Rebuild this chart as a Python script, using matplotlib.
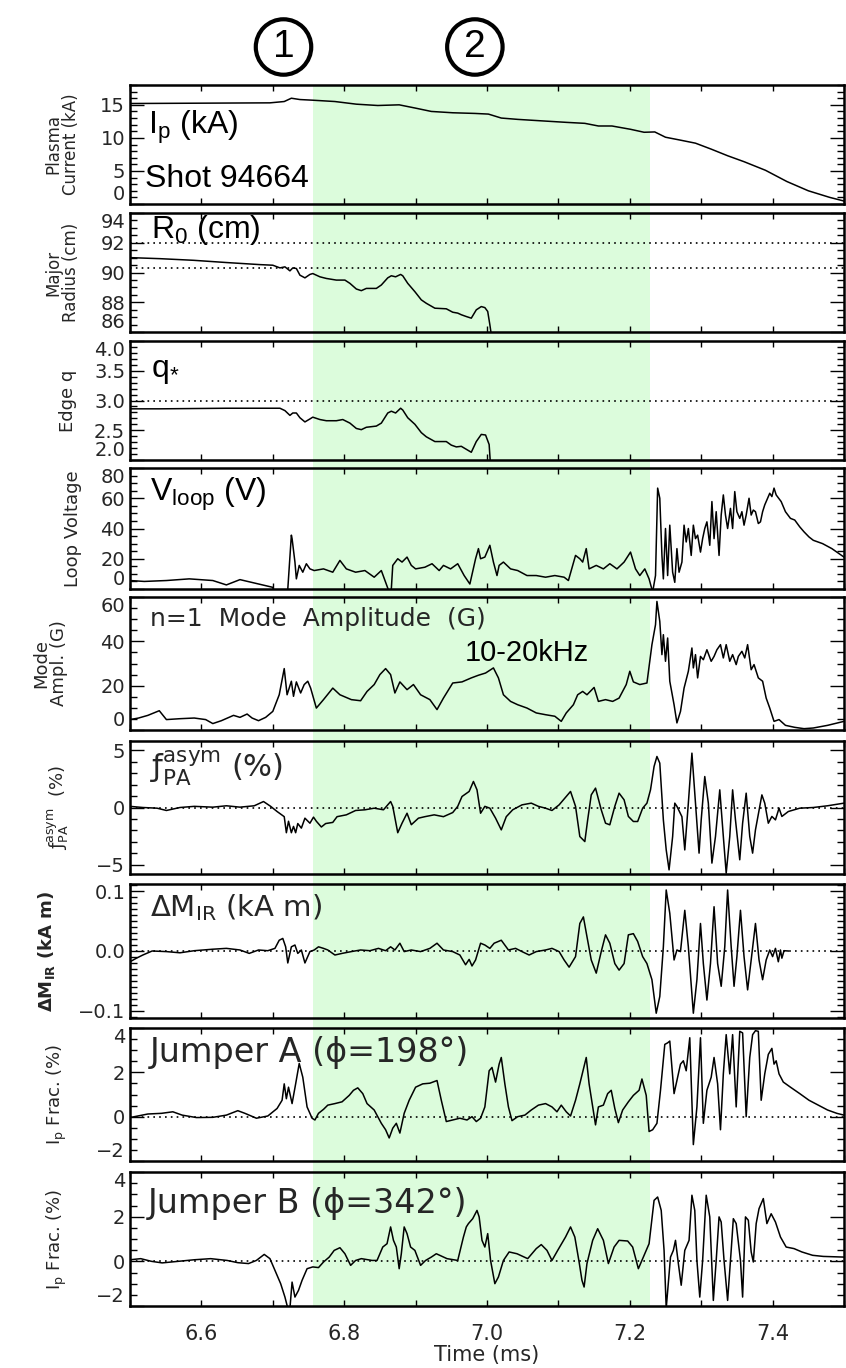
import numpy as np
import matplotlib.pyplot as plt
import matplotlib.transforms as mtransforms
from matplotlib.patches import Rectangle
from matplotlib.ticker import MultipleLocator, FuncFormatter

# values, time in ms
ip = [(6.500, 15.2), (6.696, 15.3), (6.716, 15.5), (6.726, 16.0), (6.738, 15.8), (6.756, 15.7),
      (6.787, 15.5), (6.817, 15.1), (6.847, 14.9), (6.877, 15.0), (6.900, 14.5), (6.922, 14.0),
      (6.952, 13.8), (6.983, 13.7), (7.002, 13.6), (7.020, 13.0), (7.043, 12.8), (7.073, 12.6),
      (7.111, 12.35), (7.137, 12.2), (7.156, 11.8), (7.175, 11.8), (7.201, 11.3), (7.220, 10.85),
      (7.235, 10.9), (7.250, 10.1), (7.269, 9.7), (7.292, 9.2), (7.314, 8.3), (7.337, 7.3),
      (7.360, 6.4), (7.390, 5.1), (7.420, 3.4), (7.450, 2.0), (7.480, 1.0), (7.500, 0.45)]

r0 = [(6.500, 91.0), (6.542, 90.93), (6.589, 90.82), (6.635, 90.67), (6.682, 90.53), (6.700, 90.49),
      (6.710, 90.31), (6.717, 90.38), (6.724, 90.11), (6.728, 90.31), (6.733, 90.27), (6.738, 89.82),
      (6.745, 89.64), (6.752, 89.87), (6.756, 89.93), (6.766, 89.71), (6.775, 89.6), (6.789, 89.49),
      (6.801, 89.49), (6.808, 89.27), (6.817, 88.89), (6.824, 88.78), (6.831, 88.93), (6.845, 88.93),
      (6.852, 89.16), (6.861, 89.64), (6.866, 89.78), (6.872, 89.71), (6.879, 89.87), (6.882, 89.78),
      (6.889, 89.27), (6.899, 88.71), (6.908, 88.16), (6.915, 87.93), (6.927, 87.6), (6.943, 87.56),
      (6.952, 87.33), (6.959, 87.27), (6.964, 87.16), (6.971, 87.04), (6.978, 86.93), (6.985, 87.49),
      (6.992, 87.71), (6.997, 87.64), (7.001, 87.38), (7.004, 86.49), (7.007, 85.5)]

qedge = [(6.500, 2.86), (6.542, 2.86), (6.589, 2.865), (6.635, 2.87), (6.682, 2.87), (6.710, 2.87),
         (6.717, 2.83), (6.724, 2.75), (6.728, 2.79), (6.733, 2.79), (6.738, 2.71), (6.745, 2.64),
         (6.752, 2.69), (6.756, 2.72), (6.766, 2.68), (6.775, 2.66), (6.789, 2.66), (6.798, 2.68),
         (6.808, 2.62), (6.817, 2.53), (6.824, 2.51), (6.831, 2.55), (6.845, 2.57), (6.852, 2.62),
         (6.861, 2.79), (6.866, 2.82), (6.872, 2.79), (6.879, 2.87), (6.882, 2.84), (6.889, 2.71),
         (6.899, 2.6), (6.908, 2.46), (6.915, 2.39), (6.927, 2.31), (6.943, 2.31), (6.950, 2.25),
         (6.957, 2.22), (6.964, 2.23), (6.971, 2.18), (6.978, 2.13), (6.985, 2.31), (6.992, 2.43),
         (6.998, 2.42), (7.003, 2.26), (7.005, 1.9)]

vloop = [(6.500, 5.6), (6.520, 5.0), (6.551, 5.6), (6.583, 6.7), (6.616, 5.6), (6.635, 2.7),
         (6.654, 6.2), (6.680, 3.3), (6.700, 1.1), (6.702, -3), (6.719, -3), (6.721, 0),
         (6.726, 35.6), (6.727, 33.3), (6.731, 17.8), (6.733, 6.7), (6.737, 15.6), (6.742, 11.1),
         (6.747, 16.7), (6.752, 13.3), (6.758, 12.2), (6.771, 13.3), (6.784, 11.1), (6.794, 18.9),
         (6.803, 13.3), (6.816, 11.1), (6.829, 12.2), (6.842, 7.8), (6.852, 12.2), (6.858, 4.4),
         (6.863, -2), (6.866, 0), (6.868, 15.6), (6.875, 20), (6.881, 17.8), (6.888, 21.1),
         (6.894, 15.6), (6.900, 13.3), (6.913, 14.4), (6.923, 16.7), (6.933, 12.2), (6.939, 15.6),
         (6.949, 13.3), (6.959, 16.7), (6.968, 8.9), (6.976, 3.3), (6.984, 20), (6.988, 26.7),
         (6.991, 20), (6.997, 21.1), (7.004, 28.9), (7.009, 17.8), (7.014, 8.9), (7.017, 15.6),
         (7.023, 17.8), (7.033, 13.3), (7.043, 12.2), (7.056, 8.9), (7.069, 8.9), (7.082, 7.8),
         (7.095, 8.9), (7.108, 7.8), (7.114, 5.6), (7.124, 22.2), (7.130, 20), (7.134, 17.8),
         (7.139, 26.7), (7.143, 13.3), (7.153, 15.6), (7.163, 13.3), (7.172, 16.7), (7.182, 13.3),
         (7.192, 17.8), (7.201, 24.4), (7.208, 13.3), (7.214, 8.9), (7.221, 13.3), (7.227, 6.7),
         (7.232, -2), (7.236, 8.9), (7.239, 66.7), (7.242, 60), (7.245, 22.2), (7.247, 6.7),
         (7.250, 40), (7.253, 8.9), (7.256, 42.2), (7.260, 11.1), (7.263, 4.4), (7.266, 26.7),
         (7.269, 11.1), (7.273, 17.8), (7.276, 42.2), (7.279, 31.1), (7.282, 40), (7.286, 22.2),
         (7.289, 42.2), (7.292, 33.3), (7.295, 35.6), (7.299, 24.4), (7.302, 33.3), (7.305, 40),
         (7.308, 44.4), (7.312, 28.9), (7.315, 57.8), (7.318, 33.3), (7.321, 51.1), (7.325, 22.2),
         (7.328, 48.9), (7.331, 62.2), (7.334, 48.9), (7.337, 40), (7.341, 53.3), (7.344, 40),
         (7.347, 64.4), (7.350, 51.1), (7.354, 46.7), (7.357, 51.1), (7.360, 42.2), (7.363, 48.9),
         (7.367, 60), (7.370, 48.9), (7.373, 52.2), (7.376, 51.1), (7.380, 43.3), (7.383, 44.4),
         (7.386, 51.1), (7.389, 55.6), (7.393, 60), (7.396, 63.3), (7.399, 61.1), (7.402, 66.7),
         (7.405, 62.2), (7.412, 57.8), (7.418, 51.1), (7.425, 46.7), (7.431, 45.6), (7.438, 41.1),
         (7.444, 37.8), (7.451, 34.4), (7.457, 32.2), (7.470, 30), (7.483, 26.7), (7.500, 21.1)]

mode = [(6.500, 4.7), (6.512, 5.4), (6.525, 6.6), (6.541, 8.7), (6.551, 4.7), (6.570, 5.1),
        (6.590, 5.4), (6.606, 4.7), (6.616, 2.9), (6.628, 4.2), (6.645, 6.6), (6.654, 5.7),
        (6.664, 7.2), (6.671, 5.4), (6.680, 4.2), (6.690, 5.7), (6.700, 8.4), (6.709, 15.9),
        (6.716, 27.7), (6.720, 15.9), (6.726, 22), (6.729, 15.2), (6.733, 21.7), (6.739, 16.7),
        (6.744, 20.5), (6.749, 22), (6.753, 18.9), (6.761, 9.9), (6.771, 13.7), (6.784, 18.9),
        (6.794, 15.9), (6.810, 13.7), (6.823, 13.2), (6.832, 17.4), (6.842, 20.5), (6.850, 25),
        (6.858, 27.7), (6.865, 25), (6.871, 16.7), (6.878, 21.7), (6.888, 18.2), (6.897, 20.5),
        (6.907, 15.9), (6.920, 13.7), (6.930, 9.2), (6.939, 14.4), (6.952, 21.2), (6.965, 21.7),
        (6.978, 23.5), (6.988, 24.7), (6.998, 25.7), (7.009, 28), (7.016, 23.5), (7.023, 15.9),
        (7.033, 12.9), (7.043, 11.4), (7.056, 9.9), (7.069, 7.7), (7.082, 6.9), (7.095, 6.2),
        (7.104, 3.9), (7.111, 7.7), (7.121, 11.4), (7.127, 15.9), (7.134, 17.4), (7.140, 15.9),
        (7.150, 19.2), (7.156, 12.9), (7.166, 13.7), (7.176, 12.9), (7.185, 14.4), (7.195, 20.5),
        (7.200, 26.5), (7.205, 21.7), (7.214, 20.5), (7.224, 21.2), (7.231, 38.5), (7.236, 47.5),
        (7.238, 58), (7.242, 49), (7.245, 34), (7.247, 43), (7.250, 31), (7.253, 41.5),
        (7.256, 22), (7.262, 11.4), (7.266, 3.2), (7.271, 8.4), (7.276, 18.9), (7.282, 26.5),
        (7.287, 37), (7.289, 28), (7.292, 34), (7.295, 23.5), (7.299, 33.2), (7.303, 31.7),
        (7.308, 36.2), (7.314, 31), (7.318, 33.2), (7.322, 36.2), (7.327, 38.5), (7.331, 32.5),
        (7.335, 38.5), (7.340, 31), (7.344, 34), (7.349, 29.5), (7.352, 33.2), (7.357, 35.5),
        (7.361, 32.5), (7.365, 38.5), (7.370, 27.2), (7.374, 29.5), (7.380, 23.5), (7.386, 22),
        (7.391, 14.4), (7.396, 9.9), (7.402, 3.9), (7.409, 4.7), (7.418, 2.1), (7.431, 1.2),
        (7.444, 0.6), (7.457, 0.9), (7.477, 2.1), (7.500, 3.9)]

fpa = [(6.500, 0.1), (6.518, 0), (6.538, -0.06), (6.551, -0.26), (6.570, 0), (6.590, 0.1),
       (6.616, 0.03), (6.635, 0.15), (6.654, 0.03), (6.674, 0.15), (6.687, 0.52), (6.697, 0.1),
       (6.706, -0.35), (6.716, -0.8), (6.719, -2.2), (6.722, -1.2), (6.726, -2.2), (6.729, -1.65),
       (6.732, -2.2), (6.735, -1.4), (6.740, -1.8), (6.745, -0.93), (6.752, -1.37), (6.757, -0.84),
       (6.761, -1.2), (6.768, -1.7), (6.774, -1.4), (6.784, -1.3), (6.790, -0.8), (6.803, -0.64),
       (6.816, -0.26), (6.829, -0.2), (6.842, -0.06), (6.855, -0.2), (6.865, 0.52), (6.868, 0.1),
       (6.875, -2.2), (6.881, -1.37), (6.888, -0.5), (6.894, -1.5), (6.904, -0.93), (6.913, -0.8),
       (6.926, -0.64), (6.939, -0.8), (6.952, -0.44), (6.959, 0.1), (6.965, 0.96), (6.975, 1.4),
       (6.981, 2.27), (6.986, 1.54), (6.991, -0.5), (6.997, 0.1), (7.004, -0.06), (7.012, -0.93),
       (7.020, -1.95), (7.027, -0.8), (7.036, -0.2), (7.049, 0.23), (7.062, 0.38), (7.072, 0.1),
       (7.082, -0.06), (7.091, -0.26), (7.101, 0.23), (7.111, 0.96), (7.117, 1.4), (7.124, 0.1),
       (7.130, -2.53), (7.137, -2.97), (7.141, -1.08), (7.146, 1.1), (7.152, 1.69), (7.160, -0.2),
       (7.166, -1.37), (7.172, -1.51), (7.179, 0.1), (7.185, 1.25), (7.192, 0.67), (7.198, -0.78),
       (7.205, -1.22), (7.211, -1.22), (7.218, -0.06), (7.224, 0.38), (7.229, 1.54), (7.234, 3.58),
       (7.238, 4.45), (7.242, 3.87), (7.247, -1.08), (7.251, -3.7), (7.255, -5.44), (7.260, -2.53),
       (7.263, 0.38), (7.266, 0.1), (7.273, -0.8), (7.277, -3.7), (7.282, 0.38), (7.287, 4.74),
       (7.292, 0.38), (7.297, -3.98), (7.300, -1.08), (7.305, 2.7), (7.310, 0.38), (7.315, -4.85),
       (7.320, -2.53), (7.326, 1.54), (7.331, -2.53), (7.335, -5.73), (7.340, -2.53), (7.344, 1.54),
       (7.348, -1.08), (7.354, -4.56), (7.358, -1.37), (7.363, 1.25), (7.368, -2.53), (7.372, -3.98),
       (7.376, -1.95), (7.385, 1.1), (7.389, 0.38), (7.394, -1.37), (7.399, -0.78), (7.404, -1.08),
       (7.409, -0.06), (7.413, -0.78), (7.422, -0.35), (7.438, -0.06), (7.457, 0), (7.477, 0.15),
       (7.500, 0.38)]

dmir = [(6.500, -0.018), (6.509, -0.012), (6.518, -0.0067), (6.531, 0), (6.551, -0.001),
        (6.570, -0.003), (6.590, 0.0005), (6.616, 0.003), (6.635, 0.0044), (6.654, 0.0017),
        (6.667, -0.004), (6.680, 0.0017), (6.693, 0.0005), (6.703, 0.0044), (6.709, 0.018),
        (6.714, 0.021), (6.718, 0.007), (6.721, -0.02), (6.726, 0.007), (6.731, 0.01),
        (6.735, -0.004), (6.740, 0.0017), (6.745, -0.02), (6.752, -0.001), (6.758, 0.0017),
        (6.764, 0.007), (6.771, 0.0044), (6.777, 0.0017), (6.787, -0.0067), (6.797, -0.004),
        (6.810, -0.001), (6.823, 0.0017), (6.836, 0.0005), (6.848, 0.0044), (6.858, 0.0005),
        (6.865, 0.007), (6.871, 0.0017), (6.878, 0.013), (6.884, -0.001), (6.894, 0.0017),
        (6.907, -0.001), (6.920, 0.0044), (6.930, 0.013), (6.939, 0.0017), (6.952, -0.001),
        (6.962, -0.0067), (6.970, -0.023), (6.975, -0.014), (6.979, -0.025), (6.984, -0.015),
        (6.991, 0.013), (6.997, 0.01), (7.004, 0.0044), (7.010, 0.013), (7.020, 0.018),
        (7.030, 0.0017), (7.040, 0.0044), (7.049, -0.001), (7.059, -0.0067), (7.069, -0.001),
        (7.082, 0.0017), (7.091, 0.0044), (7.101, -0.001), (7.108, -0.015), (7.115, -0.027),
        (7.124, -0.0094), (7.130, 0.046), (7.135, 0.057), (7.140, 0.024), (7.146, -0.015),
        (7.153, -0.037), (7.160, -0.001), (7.166, 0.027), (7.172, 0.013), (7.179, -0.021),
        (7.185, -0.032), (7.192, -0.021), (7.198, 0.027), (7.205, 0.029), (7.211, 0.016),
        (7.218, -0.0094), (7.224, -0.021), (7.231, -0.048), (7.237, -0.104), (7.242, -0.076),
        (7.247, 0.007), (7.251, 0.102), (7.256, 0.063), (7.262, -0.015), (7.266, 0.0017),
        (7.271, -0.001), (7.277, 0.068), (7.282, 0.007), (7.289, -0.104), (7.294, -0.048),
        (7.299, 0.046), (7.303, -0.021), (7.308, -0.082), (7.313, -0.021), (7.318, 0.074),
        (7.323, -0.021), (7.328, -0.059), (7.333, 0.007), (7.337, 0.102), (7.342, 0.007),
        (7.346, -0.059), (7.350, -0.0094), (7.355, 0.068), (7.360, -0.0094), (7.365, -0.065),
        (7.370, -0.015), (7.376, 0.046), (7.381, -0.015), (7.386, -0.048), (7.391, -0.015),
        (7.396, 0.0017), (7.400, -0.0094), (7.404, 0.0044), (7.408, -0.018), (7.411, 0.0017),
        (7.413, -0.012), (7.416, 0.0005), (7.422, 0)]

jumper_a = [(6.500, -0.04), (6.525, 0.12), (6.544, 0.15), (6.560, 0.22), (6.573, 0.07),
            (6.593, -0.04), (6.616, -0.03), (6.635, 0.07), (6.651, 0.27), (6.661, 0.15),
            (6.677, -0.07), (6.693, 0.03), (6.706, 0.37), (6.713, 0.74), (6.716, 1.48),
            (6.719, 0.81), (6.722, 1.33), (6.727, 0.59), (6.732, 1.48), (6.737, 2.4),
            (6.742, 1.78), (6.748, 0.44), (6.755, -0.07), (6.759, -0.15), (6.764, 0.15),
            (6.771, 0.33), (6.777, 0.52), (6.787, 0.59), (6.797, 0.67), (6.807, 0.96),
            (6.813, 1.19), (6.819, 1.3), (6.826, 1.04), (6.832, 0.59), (6.842, 0.3),
            (6.852, -0.3), (6.858, -0.59), (6.863, -0.96), (6.868, -0.52), (6.873, -0.3),
            (6.878, -0.74), (6.884, 0.15), (6.891, 0.74), (6.900, 1.33), (6.910, 1.48),
            (6.920, 1.51), (6.930, 1.63), (6.936, 0.74), (6.943, -0.22), (6.952, -0.15),
            (6.962, -0.07), (6.972, -0.15), (6.979, 0), (6.985, -0.22), (6.991, -0.07),
            (6.997, 0.44), (7.003, 2.07), (7.007, 2.22), (7.012, 1.56), (7.017, 2.37),
            (7.020, 2.67), (7.025, 1.48), (7.030, 0.44), (7.035, -0.18), (7.043, 0),
            (7.053, 0.07), (7.062, 0.3), (7.072, 0.52), (7.082, 0.59), (7.091, 0.44),
            (7.098, 0.22), (7.104, 0.52), (7.111, 0.22), (7.117, 0.03), (7.124, 0.74),
            (7.130, 1.48), (7.139, 2.67), (7.143, 1.48), (7.148, 0.44), (7.152, -0.37),
            (7.156, 0.44), (7.163, 0.52), (7.169, 1.04), (7.174, 1.19), (7.179, 0.37),
            (7.184, -0.27), (7.190, 0.3), (7.198, 0.67), (7.205, 0.96), (7.213, 1.19),
            (7.217, 1.7), (7.223, 0.96), (7.227, -0.67), (7.232, -0.59), (7.238, -0.3),
            (7.243, 1.19), (7.249, 3.26), (7.253, 3.33), (7.256, 3.41), (7.262, 1.04),
            (7.266, 1.63), (7.271, 2.37), (7.275, 2.52), (7.279, 2.07), (7.284, 3.56),
            (7.289, -1.26), (7.294, 0.44), (7.299, 3.56), (7.303, -0.3), (7.308, 1.19),
            (7.314, 1.78), (7.318, 2.67), (7.323, 1.48), (7.327, -0.59), (7.331, 1.93),
            (7.335, 3.7), (7.340, 1.93), (7.344, 3.7), (7.349, 0.44), (7.354, 3.85),
            (7.358, 3.78), (7.363, 0), (7.368, 2.67), (7.372, 3.7), (7.376, 3.88),
            (7.380, 3.85), (7.384, 0.74), (7.389, 1.93), (7.394, 2.81), (7.399, 3.08),
            (7.402, 2.37), (7.405, 2.52), (7.409, 1.93), (7.415, 1.56), (7.425, 1.33),
            (7.438, 1.04), (7.451, 0.74), (7.464, 0.52), (7.477, 0.3), (7.490, 0.15), (7.500, 0.07)]

jumper_b = [(6.500, 0.07), (6.515, 0.12), (6.530, 0), (6.545, -0.07), (6.568, 0), (6.590, 0.07),
            (6.613, 0.12), (6.636, 0.04), (6.651, -0.06), (6.666, -0.1), (6.677, 0.04), (6.688, 0.31),
            (6.696, 0.12), (6.703, -0.4), (6.711, -1.0), (6.717, -1.6), (6.721, -2.1), (6.724, -2.1),
            (6.727, -0.93), (6.731, -1.6), (6.736, -1.3), (6.741, -0.85), (6.748, -0.33), (6.756, -0.25),
            (6.764, -0.28), (6.771, -0.03), (6.779, 0.19), (6.786, 0.49), (6.794, 0.61), (6.801, 0.34),
            (6.809, -0.18), (6.816, 0.04), (6.824, 0.12), (6.839, 0.04), (6.846, 0.04), (6.854, 0.64),
            (6.860, 0.79), (6.865, 1.54), (6.869, 0.94), (6.873, 0.64), (6.877, -0.33), (6.880, 0.34),
            (6.884, 1.54), (6.888, 1.24), (6.893, 0.64), (6.899, 0.49), (6.907, -0.18), (6.914, 0.04),
            (6.922, 0.19), (6.929, 0.34), (6.944, 0.12), (6.959, 0.04), (6.967, 1.09), (6.971, 1.54),
            (6.974, 1.69), (6.980, 1.91), (6.986, 2.28), (6.989, 1.99), (6.993, 0.94), (6.997, 0.64),
            (7.001, 1.24), (7.005, 0.04), (7.011, -1.0), (7.016, -0.7), (7.023, 0.04), (7.031, 0.42),
            (7.042, 0.34), (7.057, 0.12), (7.069, 0.57), (7.076, 0.75), (7.084, 0.49), (7.091, 0.04),
            (7.099, 0.49), (7.110, 1.09), (7.117, 1.54), (7.123, 1.09), (7.129, -0.03), (7.133, -0.85),
            (7.136, -1.15), (7.140, -0.1), (7.148, 0.94), (7.155, 1.46), (7.163, 0.94), (7.170, -0.1),
            (7.178, 0.64), (7.185, 0.94), (7.197, 0.91), (7.204, 0.64), (7.212, -0.33), (7.219, 0.19),
            (7.227, 0.79), (7.234, 2.73), (7.239, 2.88), (7.244, 2.28), (7.248, 0.49), (7.251, -2.1),
            (7.257, 0.19), (7.261, 0.49), (7.264, 0.94), (7.268, -0.1), (7.272, -1.07), (7.277, 0.49),
            (7.283, 0.94), (7.287, 2.96), (7.291, 2.28), (7.294, 0.04), (7.298, -1.6), (7.302, 0.04),
            (7.307, 2.96), (7.312, 1.99), (7.317, -1.75), (7.321, 0.04), (7.325, 1.99), (7.328, 1.76),
            (7.332, 0.04), (7.337, -1.75), (7.342, 0.49), (7.345, 1.91), (7.349, 1.69), (7.355, 0.04),
            (7.358, -1.6), (7.362, 1.99), (7.366, 1.84), (7.370, 0.42), (7.373, -0.03), (7.377, 1.69),
            (7.381, 2.36), (7.387, 2.81), (7.392, 1.69), (7.398, 2.13), (7.404, 1.76), (7.411, 1.09),
            (7.419, 0.64), (7.430, 0.57), (7.441, 0.42), (7.456, 0.27), (7.471, 0.22), (7.500, 0.19)]

shade = (6.756, 7.228)
phases = [("1", 6.715), ("2", 6.983)]

W, H = 846, 1368
IDL = '#262626'
fig = plt.figure(figsize=(W / 100, H / 100), dpi=100)

# pixel rows (top, bottom) of each panel
rows = [(85, 204), (213, 332), (341, 460), (468, 589), (597, 730),
        (741, 874), (884, 1018), (1028, 1161), (1172, 1306)]

panels = [
    dict(data=ip, ylim=(0, 18), major=5, minor=1, fmt='%d', refs=[],
         ylabel='Plasma\nCurrent (kA)', ylx=62, yls=12),
    dict(data=r0, ylim=(86, 94), major=2, minor=0.5, fmt='%d', refs=[92.0, 90.3],
         ylabel='Major\nRadius (cm)', ylx=62, yls=12),
    dict(data=qedge, ylim=(2, 4), major=0.5, minor=0.1, fmt='%.1f', refs=[3.0],
         ylabel='Edge q', ylx=68, yls=13),
    dict(data=vloop, ylim=(0, 80), major=20, minor=5, fmt='%d', refs=[],
         ylabel='Loop Voltage', ylx=73, yls=13),
    dict(data=mode, ylim=(0, 60), major=20, minor=5, fmt='%d', refs=[],
         ylabel='Mode\nAmpl. (G)', ylx=50, yls=13),
    dict(data=fpa, ylim=(-5.8, 5.8), major=5, minor=1, fmt='%d', refs=[0],
         ylabel=r'$\mathregular{ƒ}_{\mathregular{PA}}^{\mathregular{asym}}$  (%)', ylx=58, yls=13),
    dict(data=dmir, ylim=(-0.112, 0.112), major=0.1, minor=0.01, fmt='%.1f', refs=[0],
         ylabel=r'ΔM$_\mathregular{IR}$ (kA m)', ylx=46, yls=13),
    dict(data=jumper_a, ylim=(-2, 4), major=2, minor=0.5, fmt='%d', refs=[0],
         ylabel=r'I$_\mathregular{p}$ Frac. (%)', ylx=57, yls=13),
    dict(data=jumper_b, ylim=(-2, 4), major=2, minor=0.5, fmt='%d', refs=[0],
         ylabel=r'I$_\mathregular{p}$ Frac. (%)', ylx=57, yls=13),
]


def tick_fmt(fmt):
    def f(v, pos):
        if abs(v) < 1e-9:
            v = 0
        return (fmt % v).replace('-', '\u2212')
    return FuncFormatter(f)


L, R = 130, 844
axes = []
for (top, bot), p in zip(rows, panels):
    ax = fig.add_axes([L / W, 1 - bot / H, (R - L) / W, (bot - top) / H])
    ax.set_facecolor('none')
    t, v = np.array(p['data']).T
    ax.plot(t, v, color='black', lw=1.1)
    for r in p['refs']:
        ax.axhline(r, color='black', lw=1.2, ls=(0, (1, 2.5)))
    ax.set_xlim(6.5, 7.5)
    ax.set_ylim(*p['ylim'])
    ax.yaxis.set_major_locator(MultipleLocator(p['major']))
    ax.yaxis.set_minor_locator(MultipleLocator(p['minor']))
    ax.yaxis.set_major_formatter(tick_fmt(p['fmt']))
    ax.xaxis.set_major_locator(MultipleLocator(0.2))
    ax.xaxis.set_minor_locator(MultipleLocator(0.1))
    ax.tick_params(which='both', direction='in', top=True, right=True, width=1)
    ax.tick_params(axis='y', which='major', length=10)
    ax.tick_params(axis='y', which='minor', length=5)
    ax.tick_params(axis='x', which='both', length=4.5)
    ax.tick_params(axis='y', labelsize=14, pad=3.5, labelcolor=IDL)
    ax.tick_params(axis='x', labelbottom=False)
    for s in ax.spines.values():
        s.set_linewidth(1.8)
    ax.text((p['ylx'] - L) / (R - L), 0.5, p['ylabel'], transform=ax.transAxes,
            rotation=90, rotation_mode='anchor', ha='center', va='center',
            multialignment='center', linespacing=1.0, fontsize=p['yls'], color=IDL,
            fontweight='bold' if p['data'] is dmir else 'normal')
    # tick labels sitting on the frame edges are pulled inside the panel
    lo, hi = p['ylim']
    locs = ax.yaxis.get_majorticklocs()
    for tick, loc in zip(ax.yaxis.get_major_ticks(len(locs)), locs):
        if abs(loc - hi) < 1e-6:
            tick.label1.set_va('top')
        elif abs(loc - lo) < 1e-6:
            tick.label1.set_va('bottom')
    axes.append(ax)

# bottom axis
axb = axes[-1]
axb.tick_params(axis='x', labelbottom=True, labelsize=15, pad=13, labelcolor=IDL)
axb.xaxis.set_major_formatter(FuncFormatter(lambda v, pos: '%.1f' % v))
axb.set_xlabel('Time (ms)', fontsize=15, color=IDL)
axb.xaxis.set_label_coords(0.5, -0.29)

# shaded interval through all panels
tr = mtransforms.blended_transform_factory(axb.transData, fig.transFigure)
fig.add_artist(Rectangle((shade[0], 1 - rows[-1][1] / H), shade[1] - shade[0],
                         (rows[-1][1] - rows[0][0]) / H, transform=tr,
                         facecolor='#dcfcdc', edgecolor='none', zorder=-1))

# phase markers
for lab, tx in phases:
    fig.text(tx, 1 - 47 / H, lab, transform=tr, ha='center', va='center',
             family='Liberation Sans', fontsize=28,
             bbox=dict(boxstyle='circle,pad=0.25', fc='none', ec='black', lw=3))

# in-panel labels
A = dict(family='Liberation Sans', color='black', fontsize=23, va='baseline', ha='left')
axes[0].text(0.025, 0.594, r'I$_\mathregular{p}$ (kA)', transform=axes[0].transAxes, **A)
axes[0].text(0.021, 0.145, 'Shot 94664', transform=axes[0].transAxes, **A)
axes[1].text(0.029, 0.787, r'R$_\mathregular{0}$ (cm)', transform=axes[1].transAxes, **A)
axes[2].text(0.030, 0.70, r'q$_\mathregular{*}$', transform=axes[2].transAxes, **A)
axes[3].text(0.028, 0.733, r'V$_\mathregular{loop}$ (V)', transform=axes[3].transAxes, **A)
axes[4].text(0.469, 0.521, '10-20kHz', transform=axes[4].transAxes,
             family='Liberation Sans', color='black', fontsize=21, va='baseline', ha='left')

B = dict(color=IDL, va='baseline', ha='left')
axes[4].text(0.028, 0.784, 'n=1  Mode  Amplitude  (G)', transform=axes[4].transAxes,
             fontsize=18, **B)
axes[5].text(0.028, 0.724, r'$\mathregular{ƒ}_{\mathregular{PA}}^{\mathregular{asym}}$ (%)',
             transform=axes[5].transAxes, fontsize=22, **B)
axes[6].text(0.028, 0.756, r'ΔM$_\mathregular{IR}$ (kA m)', transform=axes[6].transAxes,
             fontsize=21, **B)
axes[7].text(0.028, 0.742, 'Jumper A (ϕ=198°)', transform=axes[7].transAxes,
             fontsize=24, **B)
axes[8].text(0.025, 0.692, 'Jumper B (ϕ=342°)', transform=axes[8].transAxes,
             fontsize=24, **B)

fig.savefig('out.png', dpi=100, facecolor='white')
